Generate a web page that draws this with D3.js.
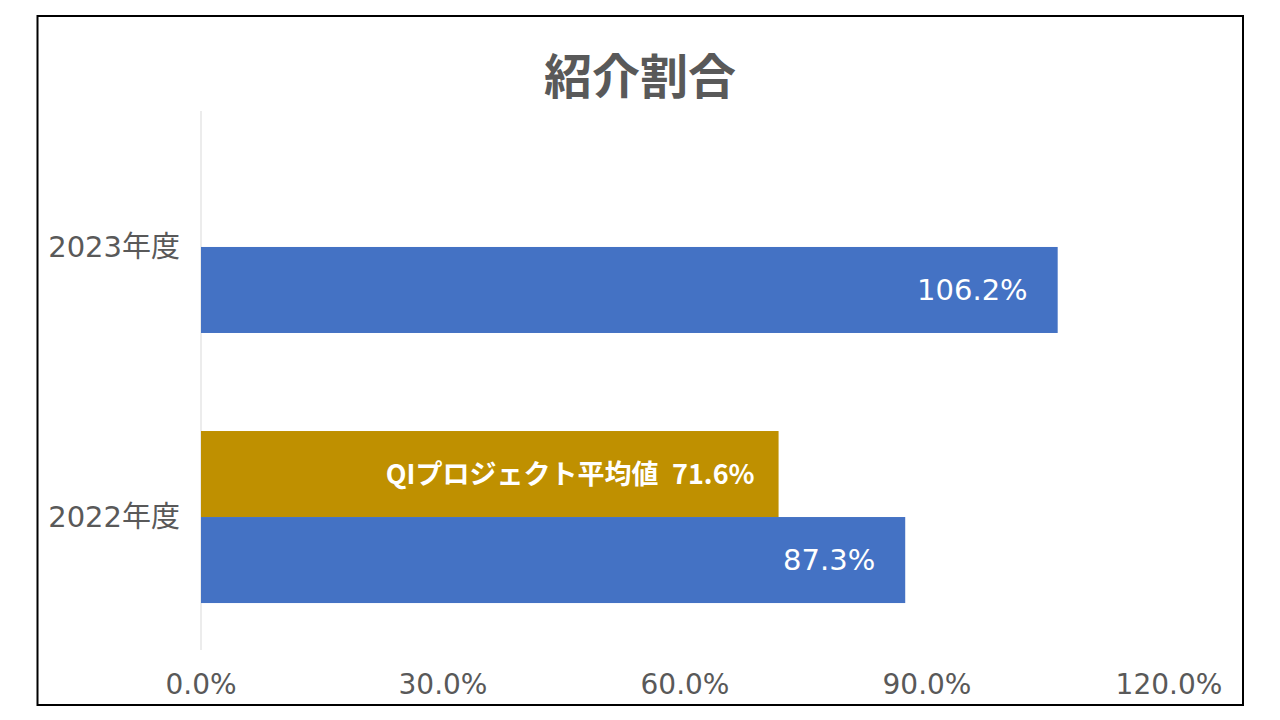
<!DOCTYPE html>
<html><head><meta charset="utf-8">
<script src="https://cdn.jsdelivr.net/npm/d3@7"></script>
<style>html,body{margin:0;padding:0;background:#fff;}</style>
</head><body>
<svg id="chart" width="1280" height="720"></svg>
<script>
const title = "紹介割合";
const categories = ["2023年度", "2022年度"];
const seriesNames = ["QIプロジェクト平均値", "紹介割合"];
const avgValues = [null, 71.6];
const ownValues = [106.2, 87.3];
const tickValues = [0, 30, 60, 90, 120];

const svg = d3.select("#chart");
const font = "'Noto Sans CJK JP', 'Noto Sans', sans-serif";
const latinFont = "'DejaVu Sans', 'Noto Sans CJK JP', sans-serif";
const gray = "#595959";

svg.append("rect").attr("x", 37.5).attr("y", 16).attr("width", 1205.5).attr("height", 689)
  .attr("fill", "#fff").attr("stroke", "#000").attr("stroke-width", 2);

svg.append("text").attr("x", 640).attr("y", 94).attr("text-anchor", "middle")
  .attr("font-family", font).attr("font-weight", "bold").attr("font-size", 48)
  .attr("fill", gray).text(title);

const x = d3.scaleLinear().domain([0, 120]).range([201, 1169]);
const y = d3.scaleBand().domain(categories).range([111, 653]).paddingInner(0.363).paddingOuter(0.185);
const sub = d3.scaleBand().domain(seriesNames).range([0, y.bandwidth()]);

// vertical axis line
svg.append("line").attr("x1", 201).attr("x2", 201).attr("y1", 111).attr("y2", 650)
  .attr("stroke", "#d9d9d9").attr("stroke-width", 1);

const colors = {"QIプロジェクト平均値": "#BF9000", "紹介割合": "#4472C4"};
const rows = [];
categories.forEach((c, i) => {
  if (avgValues[i] != null) rows.push({cat: c, s: seriesNames[0], v: avgValues[i]});
  if (ownValues[i] != null) rows.push({cat: c, s: seriesNames[1], v: ownValues[i]});
});

svg.selectAll("rect.bar").data(rows).join("rect").attr("class", "bar")
  .attr("x", x(0)).attr("y", d => y(d.cat) + sub(d.s))
  .attr("width", d => x(d.v) - x(0)).attr("height", sub.bandwidth())
  .attr("fill", d => colors[d.s]);

svg.selectAll("text.lbl").data(rows).join("text").attr("class", "lbl")
  .attr("x", d => x(d.v) - (d.s === seriesNames[0] ? 24 : 30))
  .attr("y", d => y(d.cat) + sub(d.s) + sub.bandwidth() / 2)
  .attr("dy", "0.36em").attr("text-anchor", "end")
  .attr("font-family", d => d.s === seriesNames[0] ? font : latinFont)
  .attr("font-size", d => d.s === seriesNames[0] ? 27 : 29)
  .attr("font-weight", d => d.s === seriesNames[0] ? "bold" : "normal")
  .attr("fill", "#fff")
  .style("white-space", "pre")
  .text(d => d.s === seriesNames[0] ? `${d.s}\u2002${d.v.toFixed(1)}%` : `${d.v.toFixed(1)}%`);

// category labels
svg.selectAll("text.cat").data(categories).join("text").attr("class", "cat")
  .attr("x", 180).attr("y", d => y(d) + y.bandwidth() / 2)
  .attr("dy", "0.36em").attr("text-anchor", "end")
  .attr("font-family", latinFont).attr("font-size", 29).attr("fill", gray).text(d => d);

// tick labels
svg.selectAll("text.tick").data(tickValues).join("text").attr("class", "tick")
  .attr("x", d => x(d)).attr("y", 694).attr("text-anchor", "middle")
  .attr("font-family", latinFont).attr("font-size", 28).attr("fill", gray)
  .text(d => d.toFixed(1) + "%");
</script>
</body></html>
